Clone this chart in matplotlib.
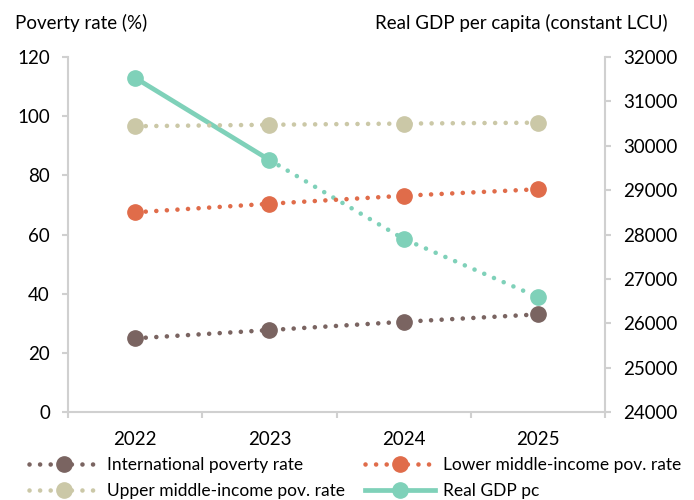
import matplotlib.pyplot as plt
from matplotlib.lines import Line2D

plt.rcParams['font.family'] = ['Lato', 'DejaVu Sans']

years = ['2022', '2023', '2024', '2025']
intl_rate = [24.9, 27.7, 30.5, 33.0]
lower_mid_rate = [67.5, 70.4, 73.1, 75.3]
upper_mid_rate = [96.6, 97.1, 97.5, 97.8]
gdp_pc = [31530, 29680, 27900, 26590]

c_intl = '#7a6461'
c_lower = '#e06c4a'
c_upper = '#cbc8a7'
c_gdp = '#7fd1b9'
grey = '#d0d0d0'

x = list(range(len(years)))
dot = (0, (0.01, 2.3))
dot_lw = 3.3
fs = 13.5

fig = plt.figure(figsize=(6.94, 5.0), dpi=100)
ax = fig.add_axes([0.098, 0.176, 0.774, 0.71])
ax2 = ax.twinx()

for vals, col in [(intl_rate, c_intl), (lower_mid_rate, c_lower), (upper_mid_rate, c_upper)]:
    ax.plot(x, vals, color=col, lw=dot_lw, linestyle=dot, dash_capstyle='round',
            marker='o', markersize=11, zorder=3)

# GDP: solid for first segment, dotted for the projection
ax2.plot(x[:2], gdp_pc[:2], color=c_gdp, lw=3.4, solid_capstyle='round', zorder=3)
ax2.plot(x[1:], gdp_pc[1:], color=c_gdp, lw=dot_lw, linestyle=dot, dash_capstyle='round', zorder=3)
ax2.plot(x, gdp_pc, linestyle='none', marker='o', markersize=11, color=c_gdp, zorder=4)

ax.set_xlim(-0.5, 3.5)
ax.set_ylim(0, 120)
ax.set_yticks(range(0, 121, 20))
ax2.set_ylim(24000, 32000)
ax2.set_yticks(range(24000, 32001, 1000))

ax.set_xticks([-0.5, 0.5, 1.5, 2.5, 3.5])
ax.set_xticklabels([])
ax.set_xticks(x, minor=True)
ax.set_xticklabels(years, minor=True)
ax.tick_params(axis='x', which='major', length=4, color=grey, width=1.5, direction='out')
ax.tick_params(axis='x', which='minor', length=0, pad=14, labelsize=fs)

for a in (ax, ax2):
    for s in a.spines.values():
        s.set_visible(False)
    a.tick_params(axis='y', length=4, color=grey, width=1.5, labelsize=fs, pad=9)
ax.spines['left'].set_visible(True)
ax.spines['bottom'].set_visible(True)
ax2.spines['right'].set_visible(True)
for s in (ax.spines['left'], ax.spines['bottom'], ax2.spines['right']):
    s.set_color(grey)
    s.set_linewidth(1.5)
ax.set_zorder(ax2.get_zorder() + 1)
ax.patch.set_visible(False)

fig.text(0.021, 0.955, 'Poverty rate (%)', fontsize=fs, va='center', ha='left')
fig.text(0.962, 0.955, 'Real GDP per capita (constant LCU)', fontsize=fs, va='center', ha='right')

def dotted_handle(col):
    return Line2D([], [], color=col, lw=dot_lw, linestyle=dot, dash_capstyle='round',
                  marker='o', markersize=11, markevery=[1])

# column-major fill: first column, then second
handles = [dotted_handle(c_intl), dotted_handle(c_upper), dotted_handle(c_lower),
           Line2D([], [], color=c_gdp, lw=3.4, marker='o', markersize=11, markevery=[1])]
labels = ['International poverty rate', 'Upper middle-income pov. rate',
          'Lower middle-income pov. rate', 'Real GDP pc']
fig.legend(handles, labels, loc='upper left', bbox_to_anchor=(0.042, 0.086), ncol=2,
           frameon=False, fontsize=12.5, handlelength=4.0, handletextpad=0.46,
           columnspacing=1.2, labelspacing=0.6, borderpad=0, borderaxespad=0)

fig.savefig('out.png', dpi=100)
